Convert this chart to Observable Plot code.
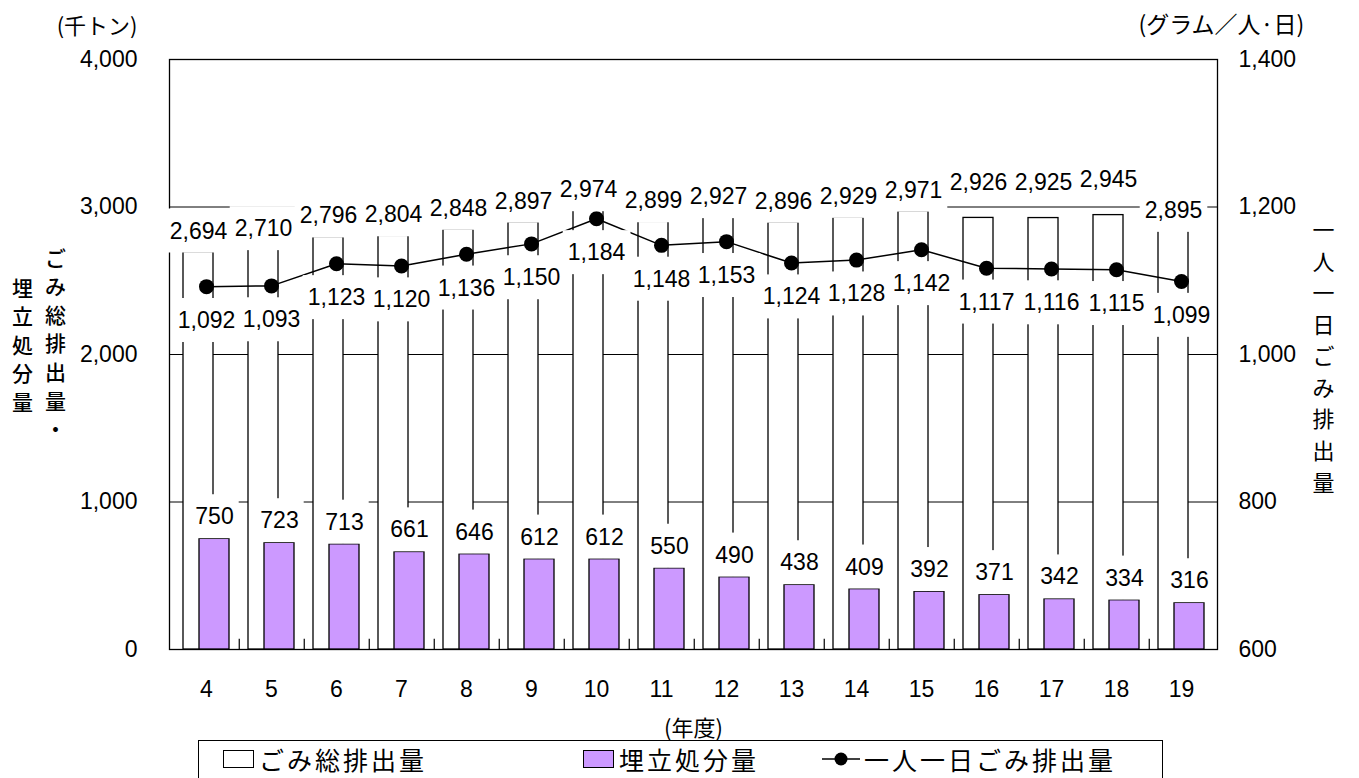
<!DOCTYPE html>
<html>
<head>
<meta charset="utf-8">
<script src="https://cdn.jsdelivr.net/npm/d3@7"></script>
<script src="https://cdn.jsdelivr.net/npm/@observablehq/plot@0.6"></script>
<style>
  body { margin: 0; background: #fff; }
  #wrap { position: relative; width: 1359px; height: 778px; overflow: hidden; background: #fff; }
  #legend {
    position: absolute; left: 198px; top: 740px; width: 965px; height: 38px;
    border: 1.3px solid #000; border-bottom: none; box-sizing: border-box; background: #fff;
    font-family: "Noto Sans CJK JP", sans-serif; font-size: 25px; letter-spacing: 3px; color: #000;
  }
  .item { position: absolute; top: 0; display: flex; align-items: center; height: 36px; line-height: 36px; white-space: nowrap; }
  .sw { width: 31px; height: 18px; border: 1.3px solid #000; box-sizing: border-box; margin-right: 5px; }
</style>
</head>
<body>
<div id="wrap"></div>
<script>
// Fiscal years (Heisei)
const years = ["4","5","6","7","8","9","10","11","12","13","14","15","16","17","18","19"];
// Total waste generated (thousand tonnes)
const totalWaste = [2694, 2710, 2796, 2804, 2848, 2897, 2974, 2899, 2927, 2896, 2929, 2971, 2926, 2925, 2945, 2895];
// Landfill disposal (thousand tonnes)
const landfill = [750, 723, 713, 661, 646, 612, 612, 550, 490, 438, 409, 392, 371, 342, 334, 316];
// Waste per person per day (grams)
const perCapita = [1092, 1093, 1123, 1120, 1136, 1150, 1184, 1148, 1153, 1124, 1128, 1142, 1117, 1116, 1115, 1099];
// Axis ticks
const leftTicks = [0, 1000, 2000, 3000, 4000];
const rightTicks = [600, 800, 1000, 1200, 1400];
const rightDomain = [600, 1400];

// Layout
const W = 1359, H = 740, ML = 169, MR = 142, MT = 59, MB = 91;
const step = (W - ML - MR) / years.length;
const barShift = 8;
// vertical offset of the total labels (a few sit at a different height)
const totalLabelDy = y => (["16", "17", "18"].includes(y) ? -35 : y === "19" ? -12 : -21);

const leftMax = 4000;
const toLeft = v => (v - rightDomain[0]) / (rightDomain[1] - rightDomain[0]) * leftMax;
const fromLeft = v => v / leftMax * (rightDomain[1] - rightDomain[0]) + rightDomain[0];

const rows = years.map((y, i) => ({
  year: y, total: totalWaste[i], landfill: landfill[i], perCapita: perCapita[i], pc: toLeft(perCapita[i])
}));
const fmt = d3.format(",");
const numFont = "'Liberation Sans', Arial, sans-serif";
const jpFont = "'Noto Sans CJK JP', sans-serif";
const LABEL = "value-label";

const totalLabelMarks = Array.from(new Set(years.map(totalLabelDy))).map(dy =>
  Plot.text(rows, {filter: d => totalLabelDy(d.year) === dy, x: "year", y: "total",
    text: d => fmt(d.total), dx: -barShift, dy, ariaDescription: LABEL})
);

const chart = Plot.plot({
  width: W, height: H,
  marginLeft: ML, marginRight: MR, marginTop: MT, marginBottom: MB,
  style: {fontFamily: numFont, fontSize: "23px", color: "#000", background: "#fff", overflow: "visible"},
  x: {type: "band", domain: years, paddingInner: 0.54, paddingOuter: 0.27},
  y: {domain: [0, leftMax]},
  marks: [
    Plot.ruleY(leftTicks.slice(1, -1), {stroke: "#000", strokeWidth: 1}),
    Plot.frame({stroke: "#000", strokeWidth: 1.3}),
    // inward ticks at category boundaries
    Plot.ruleX(years.slice(0, -1), {x: d => d, y1: 0, y2: 70, dx: step / 2, stroke: "#000", strokeWidth: 1.2}),
    Plot.axisX({tickSize: 0, tickPadding: 31, label: null, fontSize: 23}),
    Plot.axisY({ticks: leftTicks, tickSize: 0, tickPadding: 32, tickFormat: fmt, label: null, fontSize: 23}),
    Plot.axisY({anchor: "right", ticks: rightTicks.map(toLeft), tickSize: 0, tickPadding: 21,
      tickFormat: d => fmt(Math.round(fromLeft(d))), label: null, fontSize: 23}),
    Plot.barY(rows, {x: "year", y: "total", dx: -barShift, fill: "#fff", stroke: "#000", strokeWidth: 1.3}),
    Plot.barY(rows, {x: "year", y: "landfill", dx: barShift, fill: "#cc99ff", stroke: "#000", strokeWidth: 1.3}),
    Plot.line(rows, {x: "year", y: "pc", stroke: "#000", strokeWidth: 1.5}),
    Plot.dot(rows, {x: "year", y: "pc", r: 7.5, fill: "#000", stroke: "none"}),
    // value labels (boxed)
    ...totalLabelMarks,
    Plot.text(rows, {x: "year", y: "landfill", text: d => fmt(d.landfill), dx: barShift, dy: -22, ariaDescription: LABEL}),
    Plot.text(rows, {x: "year", y: "pc", text: d => fmt(d.perCapita), dy: 34, ariaDescription: LABEL}),
    // unit labels and axis titles
    Plot.text(["(千トン)"], {frameAnchor: "top-left", dx: -32, dy: -41, textAnchor: "end", fontFamily: jpFont, fontSize: 22}),
    Plot.text(["(グラム／人·日)"], {frameAnchor: "top-right", dx: -79, dy: -43, textAnchor: "start", fontFamily: jpFont, fontSize: 23}),
    Plot.text(["(年度)"], {frameAnchor: "bottom", dy: 86, fontFamily: jpFont, fontSize: 22}),
    Plot.text(["ご\nみ\n総\n排\n出\n量\n・"], {frameAnchor: "top-left", dx: -114, dy: 186, lineAnchor: "top",
      textAnchor: "middle", lineHeight: 1.36, fontFamily: jpFont, fontSize: 21, fontWeight: 500}),
    Plot.text(["埋\n立\n処\n分\n量"], {frameAnchor: "top-left", dx: -147, dy: 216, lineAnchor: "top",
      textAnchor: "middle", lineHeight: 1.36, fontFamily: jpFont, fontSize: 21, fontWeight: 500}),
    Plot.text(["一\n人\n一\n日\nご\nみ\n排\n出\n量"], {frameAnchor: "top-right", dx: 106, dy: 156, lineAnchor: "top",
      textAnchor: "middle", lineHeight: 1.436, fontFamily: jpFont, fontSize: 22})
  ]
});

const wrap = document.getElementById("wrap");
wrap.appendChild(chart);

// white boxes behind every value label, drawn beneath all labels
(function () {
  const groups = Array.from(chart.querySelectorAll(`g[aria-description="${LABEL}"]`));
  if (!groups.length) return;
  const svgBox = chart.getBoundingClientRect();
  const ns = "http://www.w3.org/2000/svg";
  const boxes = document.createElementNS(ns, "g");
  boxes.setAttribute("aria-hidden", "true");
  groups.forEach(g => g.querySelectorAll("text").forEach(t => {
    const b = t.getBoundingClientRect();
    if (!b.width) return;
    const cx = b.left - svgBox.left + b.width / 2;
    const cy = b.top - svgBox.top + b.height / 2;
    const r = document.createElementNS(ns, "rect");
    r.setAttribute("x", cx - b.width / 2 - 5);
    r.setAttribute("y", cy - 22);
    r.setAttribute("width", b.width + 10);
    r.setAttribute("height", 44);
    r.setAttribute("fill", "#fff");
    boxes.appendChild(r);
  }));
  groups[0].parentNode.insertBefore(boxes, groups[0]);
})();

// legend
const legend = document.createElement("div");
legend.id = "legend";
legend.innerHTML = `
  <div class="item" style="left:24px"><div class="sw" style="background:#fff"></div>ごみ総排出量</div>
  <div class="item" style="left:384px"><div class="sw" style="background:#cc99ff"></div>埋立処分量</div>
  <div class="item" style="left:623px">
    <svg width="38" height="20" style="margin-right:4px"><line x1="0" y1="10" x2="38" y2="10" stroke="#000" stroke-width="1.5"/><circle cx="19" cy="10" r="6.5" fill="#000"/></svg>一人一日ごみ排出量</div>`;
wrap.appendChild(legend);
</script>
</body>
</html>
